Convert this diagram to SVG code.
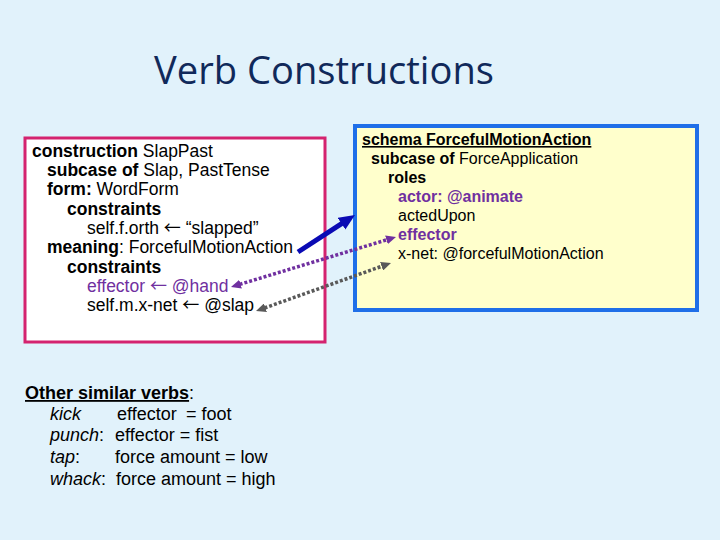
<svg xmlns="http://www.w3.org/2000/svg" width="720" height="540" viewBox="0 0 720 540">
<style>
.t{font-family:"Liberation Sans",Arial,sans-serif;font-size:17.5px;fill:#000}
.r{font-family:"Liberation Sans",Arial,sans-serif;font-size:16px;fill:#000}
.b{font-family:"Liberation Sans",Arial,sans-serif;font-size:18px;fill:#000}
.bd{font-weight:bold}
.pu{fill:#7030A0}
.it{font-style:italic}
.ul{text-decoration:underline}
.ar{font-family:"Noto Sans CJK JP","DejaVu Sans",sans-serif;font-size:17px}
.dot{fill:none;stroke-width:3.5;stroke-dasharray:3 2}
</style>
<defs>
<marker id="ab" viewBox="0 0 16 14" refX="1" refY="7" markerWidth="16" markerHeight="14" markerUnits="userSpaceOnUse" orient="auto"><path d="M0,0 L16,7 L0,14 z" fill="#0A0AB4"/></marker>
<marker id="mp" viewBox="0 0 10 9" refX="1" refY="4.5" markerWidth="10" markerHeight="9" markerUnits="userSpaceOnUse" orient="auto-start-reverse"><path d="M0,0 L10,4.5 L0,9 z" fill="#7030A0"/></marker>
<marker id="mg" viewBox="0 0 10 9" refX="1" refY="4.5" markerWidth="10" markerHeight="9" markerUnits="userSpaceOnUse" orient="auto-start-reverse"><path d="M0,0 L10,4.5 L0,9 z" fill="#595959"/></marker>
</defs>
<rect width="720" height="540" fill="#E1F2FB"/>
<text x="324" y="84" text-anchor="middle" font-family="'Open Sans','Noto Sans',sans-serif" font-size="38" fill="#10295A" textLength="340" lengthAdjust="spacingAndGlyphs">Verb Constructions</text>

<g id="construction">
<rect x="25" y="138" width="300" height="204" fill="#FFFFFF" stroke="#D4236F" stroke-width="3"/>
<text class="t" x="32" y="157"><tspan class="bd">construction</tspan> SlapPast</text>
<text class="t" x="47" y="176"><tspan class="bd">subcase of</tspan> Slap, PastTense</text>
<text class="t" x="47" y="195"><tspan class="bd">form:</tspan> WordForm</text>
<text class="t bd" x="67" y="215">constraints</text>
<text class="t" x="87" y="234">self.f.orth <tspan class="ar">←</tspan> “slapped”</text>
<text class="t" x="47" y="253"><tspan class="bd">meaning</tspan>: ForcefulMotionAction</text>
<text class="t bd" x="67" y="273">constraints</text>
<text class="t pu" x="87" y="292">effector <tspan class="ar">←</tspan> @hand</text>
<text class="t" x="87" y="311">self.m.x-net <tspan class="ar">←</tspan> @slap</text>
</g>

<g id="schema">
<rect x="355" y="126" width="342" height="184" fill="#FFFFCC" stroke="#1F6FE8" stroke-width="4"/>
<text class="r bd ul" x="362" y="145">schema ForcefulMotionAction</text>
<text class="r" x="371" y="164"><tspan class="bd">subcase of</tspan> ForceApplication</text>
<text class="r bd" x="388" y="183">roles</text>
<text class="r bd pu" x="398" y="202">actor: @animate</text>
<text class="r" x="398" y="221">actedUpon</text>
<text class="r bd pu" x="398" y="240">effector</text>
<text class="r" x="398" y="259">x-net: @forcefulMotionAction</text>
</g>

<g id="similar">
<text class="b" x="25" y="399"><tspan class="bd ul">Other similar verbs</tspan>:</text>
<text class="b it" x="50" y="420">kick</text>
<text class="b" x="117" y="420">effector<tspan x="186">= foot</tspan></text>
<text class="b it" x="50" y="441">punch<tspan font-style="normal">:</tspan></text>
<text class="b" x="115" y="441">effector = fist</text>
<text class="b it" x="50" y="463">tap<tspan font-style="normal">:</tspan></text>
<text class="b" x="115" y="463">force amount = low</text>
<text class="b it" x="50" y="485">whack<tspan font-style="normal">:</tspan></text>
<text class="b" x="116" y="485">force amount = high</text>
</g>

<g id="connectors">
<line x1="298" y1="252" x2="342.4" y2="223.2" stroke="#0A0AB4" stroke-width="5" marker-end="url(#ab)"/>
<line class="dot" x1="239.6" y1="284.4" x2="387.4" y2="239.6" stroke="#7030A0" marker-start="url(#mp)" marker-end="url(#mp)"/>
<line class="dot" x1="264.5" y1="308" x2="382.5" y2="266" stroke="#595959" marker-start="url(#mg)" marker-end="url(#mg)"/>
</g>
</svg>
